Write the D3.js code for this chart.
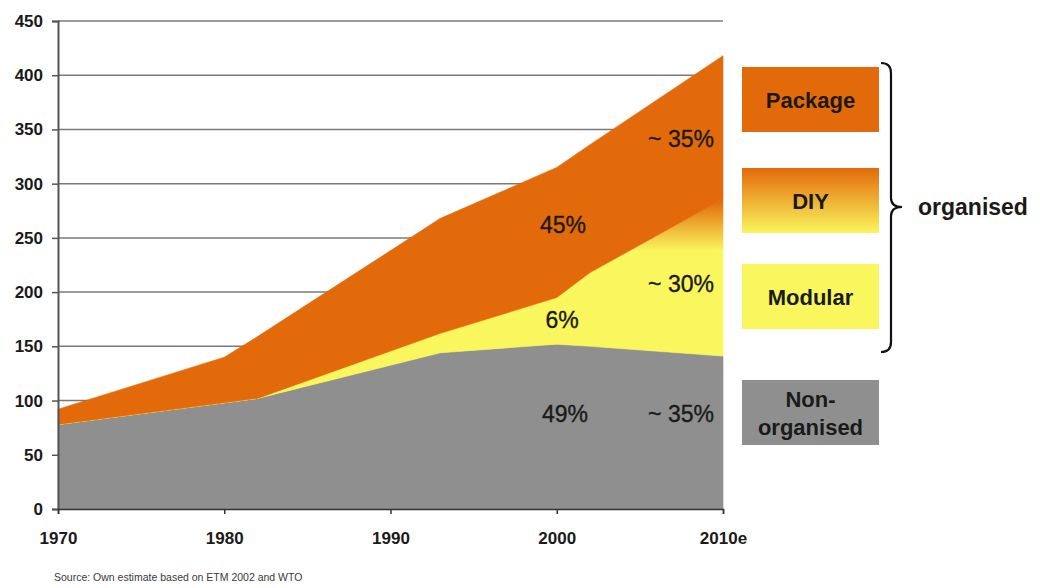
<!DOCTYPE html>
<html>
<head>
<meta charset="utf-8">
<script src="https://cdn.jsdelivr.net/npm/d3@7"></script>
<style>
  html, body { margin: 0; padding: 0; background: #fff; }
  svg { display: block; font-family: "Liberation Sans", Arial, sans-serif; }
</style>
</head>
<body>
<svg id="chart" width="1040" height="588"></svg>
<script>
// Market volume by segment, 1970 to 2010 (estimate)
const years        = [1970, 1980, 1982, 1993, 2000, 2002, 2010];
const nonOrganised = [78, 98, 102, 144, 152, 150, 141];
const modular      = [0, 0, 0, 18, 43, 55, 95];
const diy          = [0, 0, 0, 0, 0, 13, 50];
const packaged     = [14, 42, 57, 106, 120, 118, 132];

const yTicks = [0, 50, 100, 150, 200, 250, 300, 350, 400, 450];
const xTicks = [1970, 1980, 1990, 2000, 2010];
const xTickLabels = ["1970", "1980", "1990", "2000", "2010e"];

const legendLabels = [["Package"], ["DIY"], ["Modular"], ["Non-", "organised"]];
const shareLabels2000 = ["45%", "6%", "49%"];
const shareLabels2010 = ["~ 35%", "~ 30%", "~ 35%"];
const groupLabel = "organised";
const sourceNote = "Source: Own estimate based on ETM 2002 and WTO";

const ORANGE = "#e36a0b", YELLOW = "#f9f65e", GREY = "#8f8f8f";

const svg = d3.select("#chart");
const x = d3.scaleLinear().domain([1970, 2010]).range([58, 723]);
const y = d3.scaleLinear().domain([0, 450]).range([509, 21]);

// gradient for the DIY band: orange on top fading to yellow
const defs = svg.append("defs");
const grad = defs.append("linearGradient")
  .attr("id", "diyGrad")
  .attr("gradientUnits", "userSpaceOnUse")
  .attr("x1", 0).attr("x2", 0)
  .attr("y1", y(284)).attr("y2", y(238));
grad.append("stop").attr("offset", 0).attr("stop-color", ORANGE);
grad.append("stop").attr("offset", 1).attr("stop-color", YELLOW);

// horizontal gridlines
svg.append("g")
  .selectAll("line")
  .data(yTicks.slice(1))
  .join("line")
  .attr("x1", x(1970)).attr("x2", x(2010))
  .attr("y1", d => y(d)).attr("y2", d => y(d))
  .attr("stroke", "#7a7a7a").attr("stroke-width", 1.5);

// stacked areas
const rows = years.map((yr, i) => ({
  year: yr,
  nonOrganised: nonOrganised[i],
  modular: modular[i],
  diy: diy[i],
  packaged: packaged[i]
}));
const keys = ["nonOrganised", "modular", "diy", "packaged"];
const fills = { nonOrganised: GREY, modular: YELLOW, diy: "url(#diyGrad)", packaged: ORANGE };
const series = d3.stack().keys(keys)(rows);
const area = d3.area()
  .x(d => x(d.data.year))
  .y0(d => y(d[0]))
  .y1(d => y(d[1]));

svg.append("g")
  .selectAll("path")
  .data(series)
  .join("path")
  .attr("d", area)
  .attr("fill", d => fills[d.key])
  .attr("stroke", d => fills[d.key])
  .attr("stroke-width", 0.6);

// y axis
const yAxis = d3.axisLeft(y).tickValues(yTicks).tickSize(6).tickPadding(9);
const gy = svg.append("g").attr("transform", `translate(${x(1970)},0)`).call(yAxis);
gy.select(".domain").attr("stroke", "#555").attr("stroke-width", 2);
gy.selectAll(".tick line").attr("stroke", "#555").attr("stroke-width", 1.5);
gy.selectAll(".tick text")
  .attr("font-size", 17).attr("font-weight", "bold").attr("fill", "#1a1a1a")
  .attr("font-family", "Liberation Sans, Arial, sans-serif");

// x axis
const xAxis = d3.axisBottom(x).tickValues(xTicks)
  .tickFormat((d, i) => xTickLabels[i]).tickSize(5).tickPadding(18);
const gx = svg.append("g").attr("transform", `translate(0,${y(0)})`).call(xAxis);
gx.select(".domain").attr("stroke", "#333").attr("stroke-width", 1.5);
gx.selectAll(".tick line").attr("stroke", "#333").attr("stroke-width", 1.5);
gx.selectAll(".tick text")
  .attr("font-size", 17).attr("font-weight", "bold").attr("fill", "#1a1a1a")
  .attr("font-family", "Liberation Sans, Arial, sans-serif");

// share annotations inside the areas
const ann = svg.append("g")
  .attr("font-size", 23).attr("fill", "#1a1a1a")
  .attr("stroke", "#1a1a1a").attr("stroke-width", 0.35)
  .attr("text-anchor", "middle");
const pos2000 = [[563, 233], [562, 328], [565, 422]];
shareLabels2000.forEach((t, i) =>
  ann.append("text").attr("x", pos2000[i][0]).attr("y", pos2000[i][1]).text(t));
const pos2010 = [[681, 147], [681, 292], [681, 422]];
shareLabels2010.forEach((t, i) =>
  ann.append("text").attr("x", pos2010[i][0]).attr("y", pos2010[i][1]).text(t));

// legend boxes
const boxX = 742, boxW = 137, boxH = 65;
const boxTops = [67, 168, 264, 380];
const boxFills = [ORANGE, "url(#legendGrad)", YELLOW, GREY];
const lg = defs.append("linearGradient")
  .attr("id", "legendGrad").attr("x1", 0).attr("x2", 0).attr("y1", 0).attr("y2", 1);
lg.append("stop").attr("offset", 0).attr("stop-color", ORANGE);
lg.append("stop").attr("offset", 1).attr("stop-color", YELLOW);

const legend = svg.append("g");
legendLabels.forEach((lines, i) => {
  legend.append("rect")
    .attr("x", boxX).attr("y", boxTops[i])
    .attr("width", boxW).attr("height", boxH)
    .attr("fill", boxFills[i]);
  const cy = boxTops[i] + boxH / 2;
  const lh = 28;
  lines.forEach((ln, j) => {
    legend.append("text")
      .attr("x", boxX + boxW / 2)
      .attr("y", cy + (j - (lines.length - 1) / 2) * lh + 8)
      .attr("text-anchor", "middle")
      .attr("font-size", 22).attr("font-weight", "bold").attr("fill", "#1a1a1a")
      .text(ln);
  });
});

// curly brace grouping the organised segments
const braceX = 881, braceTop = 63, braceBot = 352, braceMid = 207;
svg.append("path")
  .attr("d", `M${braceX},${braceTop} Q${braceX + 10},${braceTop} ${braceX + 10},${braceTop + 10}
              L${braceX + 10},${braceMid - 9} Q${braceX + 10},${braceMid} ${braceX + 21},${braceMid}
              Q${braceX + 10},${braceMid} ${braceX + 10},${braceMid + 9}
              L${braceX + 10},${braceBot - 10} Q${braceX + 10},${braceBot} ${braceX},${braceBot}`)
  .attr("fill", "none").attr("stroke", "#111").attr("stroke-width", 2.2);

svg.append("text")
  .attr("x", 918).attr("y", 215)
  .attr("font-size", 23).attr("font-weight", "bold").attr("fill", "#1a1a1a")
  .text(groupLabel);

// source note
svg.append("text")
  .attr("x", 54).attr("y", 581)
  .attr("font-size", 10.5).attr("fill", "#3a3a3a")
  .text(sourceNote);
</script>
</body>
</html>
